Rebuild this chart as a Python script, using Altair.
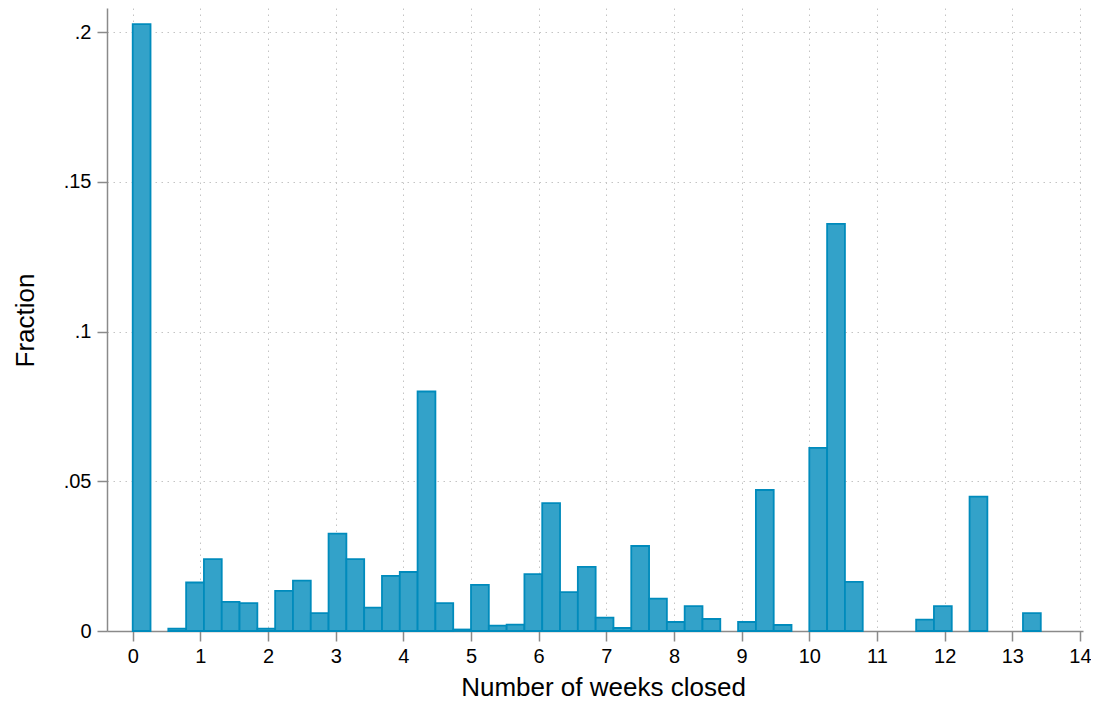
import altair as alt
import pandas as pd

# histogram bins: width 5/19 week, bins numbered from 0
BIN_W = 5 / 19
bin_idx = [0, 2, 3, 4, 5, 6, 7, 8, 9, 10, 11, 12, 13, 14, 15, 16, 17, 18, 19, 20,
           21, 22, 23, 24, 25, 26, 27, 28, 29, 30, 31, 32, 34, 35, 36, 38, 39, 40,
           44, 45, 47, 50]
fraction = [0.2027, 0.0008, 0.0162, 0.0240, 0.0097, 0.0093, 0.0008, 0.0134, 0.0168,
            0.0060, 0.0325, 0.0240, 0.0078, 0.0184, 0.0197, 0.0800, 0.0093, 0.0005,
            0.0154, 0.0018, 0.0021, 0.0190, 0.0427, 0.0130, 0.0214, 0.0045, 0.0010,
            0.0284, 0.0108, 0.0030, 0.0083, 0.0040, 0.0030, 0.0471, 0.0020, 0.0612,
            0.1360, 0.0164, 0.0038, 0.0083, 0.0449, 0.0060]

x_ticks = list(range(0, 15))
y_ticks = [0, 0.05, 0.1, 0.15, 0.2]

df = pd.DataFrame({
    'lo': [i * BIN_W for i in bin_idx],
    'hi': [(i + 1) * BIN_W for i in bin_idx],
    'fraction': fraction,
})

FONT = 'Liberation Sans'
AXIS_GREY = '#8a8a8a'

hist = alt.Chart(df).mark_rect(
    fill='#33a2c9',
    stroke='#008bbc',
    strokeWidth=1.8
).encode(
    x=alt.X('lo:Q',
            scale=alt.Scale(domain=[-0.380, 14.045], nice=False, zero=False),
            axis=alt.Axis(values=x_ticks, format='d', title='Number of weeks closed',
                          titleX=496, titleY=64, titleBaseline='alphabetic',
                          titleAlign='center')),
    x2='hi:Q',
    y=alt.Y('fraction:Q',
            scale=alt.Scale(domain=[0, 0.2081], nice=False),
            axis=alt.Axis(values=y_ticks, title='Fraction',
                          labelExpr="datum.value == 0 ? '0' : replace(format(datum.value, '.2~f'), '0.', '.')",
                          titleX=-74, titleY=312, titleAngle=270,
                          titleBaseline='alphabetic', titleAlign='center')),
    y2=alt.datum(0)
)

# whole page must stay inside the 1099x708 window (8px body margin all round)
chart = hist.properties(
    width=976,
    height=623,
    autosize=alt.AutoSizeParams(type='none'),
    padding={'left': 99, 'top': 0, 'right': 8, 'bottom': 69}
).configure_view(
    strokeWidth=0
).configure_axis(
    labelFont=FONT,
    titleFont=FONT,
    labelFontSize=20,
    titleFontSize=26,
    titleFontWeight='normal',
    labelColor='black',
    titleColor='black',
    domainColor=AXIS_GREY,
    domainWidth=1.5,
    tickColor=AXIS_GREY,
    tickWidth=1.5,
    tickSize=10,
    grid=True,
    gridColor='#c4c4c4',
    gridDash=[1.5, 4.5],
    gridWidth=1,
    labelFlush=False,
    labelOverlap=False
).configure_axisX(
    labelPadding=5
).configure_axisY(
    labelPadding=6
)

chart.save('out.html', embed_options={'renderer': 'svg', 'actions': False})
